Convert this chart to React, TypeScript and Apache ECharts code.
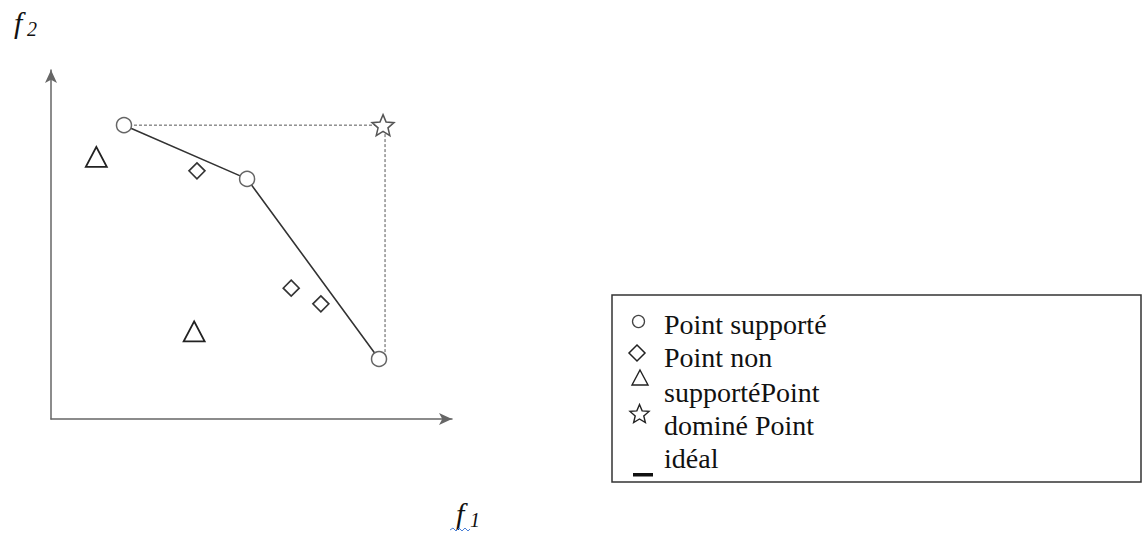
import React, { useEffect, useRef } from "react";
import * as echarts from "echarts";

// Data (arbitrary objective-space units, 0..10 on both axes)
const supported: [number, number][] = [
  [1.82, 8.42],
  [4.89, 6.88],
  [8.18, 1.72],
];
const nonSupported: [number, number][] = [
  [3.64, 7.11],
  [5.99, 3.75],
  [6.73, 3.3],
];
const dominated: [number, number][] = [
  [1.13, 7.51],
  [3.57, 2.51],
];
const ideal: [number, number][] = [[8.28, 8.42]];
const idealGuide: [number, number][] = [
  [1.82, 8.42],
  [8.33, 8.42],
  [8.33, 1.72],
];
const legendLines = ["Point supporté", "Point non", "supportéPoint", "dominé Point", "idéal"];
const xName = ["f", "1"];
const yName = ["f", "2"];

const STAR =
  "path://M0,-1 L0.2645,-0.364 L0.951,-0.309 L0.428,0.139 L0.588,0.809 L0,0.45 L-0.588,0.809 L-0.428,0.139 L-0.951,-0.309 L-0.2645,-0.364 Z";

function starPoints(cx: number, cy: number, r: number): number[][] {
  const pts: number[][] = [];
  for (let k = 0; k < 10; k++) {
    const a = ((-90 + k * 36) * Math.PI) / 180;
    const rr = k % 2 === 0 ? r : r * 0.45;
    pts.push([cx + rr * Math.cos(a), cy + rr * Math.sin(a)]);
  }
  return pts;
}

const SERIF = "'Liberation Serif', 'Times New Roman', serif";

export default function App() {
  const ref = useRef<HTMLDivElement>(null);
  useEffect(() => {
    if (!ref.current) return;
    const chart = echarts.init(ref.current, undefined, { renderer: "svg" });
    const axisCommon = {
      type: "value" as const,
      min: 0,
      max: 10,
      axisLine: {
        show: true,
        symbol: ["none", "arrow"],
        symbolSize: [9, 13],
        lineStyle: { color: "#666", width: 1.5 },
      },
      axisTick: { show: false },
      axisLabel: { show: false },
      splitLine: { show: false },
    };
    const legendYs = [324.5, 357.5, 392.5, 425.5, 458.5];
    const graphic: any[] = [
      // axis names
      { type: "text", x: 14, y: 22, style: { text: yName[0], font: `italic 30px ${SERIF}`, fill: "#111", verticalAlign: "middle" } },
      { type: "text", x: 27, y: 29, style: { text: yName[1], font: `italic 20px ${SERIF}`, fill: "#111", verticalAlign: "middle" } },
      { type: "text", x: 456, y: 513, style: { text: xName[0], font: `italic 30px ${SERIF}`, fill: "#111", verticalAlign: "middle" } },
      { type: "text", x: 470, y: 520, style: { text: xName[1], font: `italic 20px ${SERIF}`, fill: "#111", verticalAlign: "middle" } },
      {
        type: "polyline",
        shape: { points: [[450, 530], [453, 528], [456, 531], [459, 528], [462, 531], [465, 528], [468, 531], [470, 529]] },
        style: { stroke: "#4a7fd6", lineWidth: 1, fill: "none" },
      },
      // legend box
      { type: "rect", shape: { x: 612, y: 295, width: 529, height: 187 }, style: { fill: "#fff", stroke: "#333", lineWidth: 1.5 } },
      { type: "circle", shape: { cx: 638.5, cy: 321.5, r: 6 }, style: { fill: "#fff", stroke: "#444", lineWidth: 1.3 } },
      {
        type: "polygon",
        shape: { points: [[637, 345], [645, 353], [637, 361], [629, 353]] },
        style: { fill: "#fff", stroke: "#222", lineWidth: 1.5 },
      },
      {
        type: "polygon",
        shape: { points: [[640, 370], [648, 385], [632, 385]] },
        style: { fill: "#fff", stroke: "#222", lineWidth: 1.4 },
      },
      {
        type: "polygon",
        shape: { points: starPoints(639.5, 414.5, 10) },
        style: { fill: "#fff", stroke: "#222", lineWidth: 1.4 },
      },
      { type: "rect", shape: { x: 633, y: 473, width: 20, height: 3.5 }, style: { fill: "#111" } },
    ];
    legendLines.forEach((t, i) => {
      graphic.push({
        type: "text",
        x: 664,
        y: legendYs[i],
        style: { text: t, font: `28px ${SERIF}`, fill: "#111", verticalAlign: "middle" },
      });
    });

    chart.setOption({
      animation: false,
      backgroundColor: "#fff",
      grid: { left: 51, top: 70, right: 693, bottom: 115 },
      xAxis: axisCommon,
      yAxis: axisCommon,
      series: [
        {
          name: "guide",
          type: "line",
          data: idealGuide,
          showSymbol: false,
          lineStyle: { color: "#555", width: 1, type: [3, 2] },
          z: 1,
        },
        {
          name: "front",
          type: "line",
          data: supported,
          showSymbol: false,
          lineStyle: { color: "#333", width: 1.6 },
          z: 2,
        },
        {
          name: "Point supporté",
          type: "scatter",
          data: supported,
          symbol: "circle",
          symbolSize: 15,
          itemStyle: { color: "#fff", borderColor: "#666", borderWidth: 1.5, opacity: 1 },
          z: 5,
        },
        {
          name: "Point non supporté",
          type: "scatter",
          data: nonSupported,
          symbol: "diamond",
          symbolSize: [16, 16],
          itemStyle: { color: "#fff", borderColor: "#333", borderWidth: 1.6, opacity: 1 },
          z: 5,
        },
        {
          name: "Point dominé",
          type: "scatter",
          data: dominated,
          symbol: "triangle",
          symbolSize: [21, 20],
          itemStyle: { color: "#fff", borderColor: "#222", borderWidth: 1.8, opacity: 1 },
          z: 5,
        },
        {
          name: "Point idéal",
          type: "scatter",
          data: ideal,
          symbol: STAR,
          symbolSize: [22, 21],
          itemStyle: { color: "#fff", borderColor: "#555", borderWidth: 1.5, opacity: 1 },
          z: 5,
        },
      ],
      graphic,
    });
    return () => chart.dispose();
  }, []);
  return (
    <div
      ref={ref}
      style={{ position: "absolute", left: 0, top: 0, width: 1145, height: 534, background: "#fff" }}
    />
  );
}
